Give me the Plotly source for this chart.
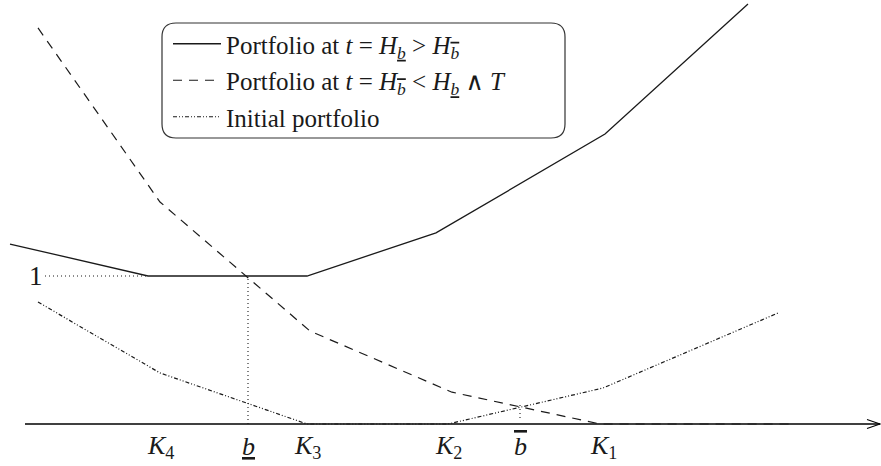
import plotly.graph_objects as go

# Strike levels and barrier positions on the horizontal (asset price) axis
K4, B_LOW, K3, K2, B_HIGH, K1 = 1.60, 2.48, 3.07, 4.48, 5.20, 6.03

# Portfolio at t = H_b (solid)
x_hb = [0.10, 1.48, 3.07, 4.36, 6.05, 7.48]
y_hb = [1.216, 1.0, 1.0, 1.291, 1.959, 2.838]

# Portfolio at t = H_bbar (dashed)
x_hbb = [0.38, 1.60, 3.10, 4.52, 6.00, 7.93]
y_hbb = [2.676, 1.50, 0.628, 0.215, 0.0, 0.0]

# Initial portfolio (dash-dot-dot)
x_init = [0.38, 1.60, 3.07, 4.48, 6.03, 7.78]
y_init = [0.824, 0.345, 0.0, 0.0, 0.243, 0.750]

# Guide lines
x_level = [0.45, 1.48]
y_level = [1.0, 1.0]
x_blow = [B_LOW, B_LOW]
y_blow = [0.0, 1.0]
x_bhigh = [B_HIGH, B_HIGH]
y_bhigh = [0.04, 0.13]

tick_vals = [K4, B_LOW, K3, K2, B_HIGH, K1]
tick_text = [
    "<i>K</i><sub>4</sub>",
    "<u><i>b</i></u>",
    "<i>K</i><sub>3</sub>",
    "<i>K</i><sub>2</sub>",
    "<span style='text-decoration:overline'><i>b</i></span>",
    "<i>K</i><sub>1</sub>",
]

FONT = "Liberation Serif, DejaVu Serif, serif"
INK = "#1a1a1a"

fig = go.Figure()

fig.add_trace(go.Scatter(
    x=x_hb, y=y_hb, mode="lines", legendgroup="a",
    line=dict(color=INK, width=1.3),
    name="Portfolio at <i>t</i> = <i>H</i><sub><u><i>b</i></u></sub> &gt; "
         "<i>H</i><sub><span style='text-decoration:overline'><i>b</i></span></sub>",
))
fig.add_trace(go.Scatter(
    x=x_hbb, y=y_hbb, mode="lines", legendgroup="b",
    line=dict(color=INK, width=1.2, dash="9px,7px"),
    name="Portfolio at <i>t</i> = <i>H</i><sub><span style='text-decoration:overline'><i>b</i></span></sub>"
         " &lt; <i>H</i><sub><u><i>b</i></u></sub> ∧ <i>T</i>",
))
fig.add_trace(go.Scatter(
    x=x_init, y=y_init, mode="lines", legendgroup="c",
    line=dict(color=INK, width=1.2, dash="4px,2px,1px,2px,1px,2px"),
    name="Initial portfolio",
))

dotted = dict(color=INK, width=1.1, dash="1px,3px")
for xs, ys in [(x_level, y_level), (x_blow, y_blow), (x_bhigh, y_bhigh)]:
    fig.add_trace(go.Scatter(x=xs, y=ys, mode="lines", line=dotted,
                             showlegend=False, hoverinfo="skip"))

# Horizontal axis with open arrow head
fig.add_shape(type="line", x0=0.25, x1=8.80, y0=0, y1=0,
              line=dict(color="black", width=1.3), layer="below")
fig.add_shape(type="path", path="M 8.67,0.03 L 8.80,0 L 8.67,-0.03",
              line=dict(color="black", width=1.1))

# Rounded legend frame (paper coordinates)
W, H = 881, 466
x0, x1 = 162 / W, 565 / W
y0, y1 = 1 - 138 / H, 1 - 23 / H
rx, ry = 14 / W, 14 / H
frame = (
    f"M {x0+rx},{y1} L {x1-rx},{y1} Q {x1},{y1} {x1},{y1-ry} "
    f"L {x1},{y0+ry} Q {x1},{y0} {x1-rx},{y0} "
    f"L {x0+rx},{y0} Q {x0},{y0} {x0},{y0+ry} "
    f"L {x0},{y1-ry} Q {x0},{y1} {x0+rx},{y1} Z"
)
fig.add_shape(type="path", xref="paper", yref="paper", path=frame,
              line=dict(color="#333333", width=1.2))

# Level label "1"
fig.add_annotation(x=0.36, y=1.0, text="1", showarrow=False, xanchor="center",
                   yanchor="middle", font=dict(family=FONT, size=27, color=INK))

# Tick labels under the axis
for xv, t in zip(tick_vals, tick_text):
    fig.add_annotation(x=xv, y=-0.155, text=t, showarrow=False, xanchor="center",
                       yanchor="middle", font=dict(family=FONT, size=26, color=INK))

fig.update_layout(
    width=W, height=H,
    margin=dict(l=0, r=0, t=0, b=0),
    paper_bgcolor="white", plot_bgcolor="white",
    xaxis=dict(range=[0, 8.81], visible=False, fixedrange=True),
    yaxis=dict(range=[-0.2838, 2.8649], visible=False, fixedrange=True),
    showlegend=True,
    legend=dict(
        x=168 / W, y=1 - 21 / H, xanchor="left", yanchor="top",
        bgcolor="rgba(0,0,0,0)", borderwidth=0,
        font=dict(family=FONT, size=25, color=INK),
        tracegroupgap=1, itemwidth=48,
    ),
)

fig.write_html("out.html")
